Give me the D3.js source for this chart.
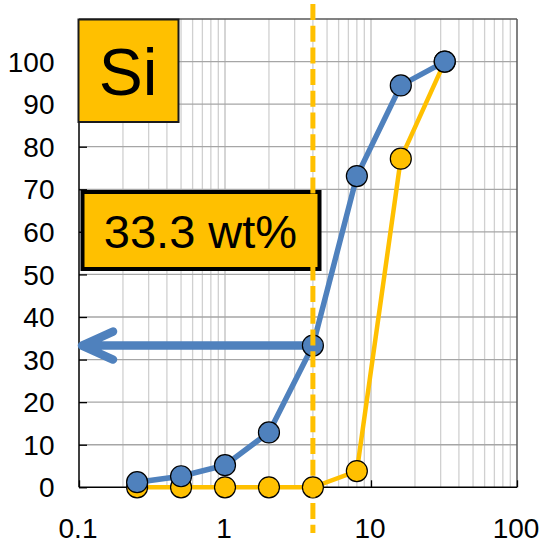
<!DOCTYPE html>
<html>
<head>
<meta charset="utf-8">
<script src="https://cdn.jsdelivr.net/npm/d3@7/dist/d3.min.js"></script>
<style>
  html, body { margin: 0; padding: 0; background: #fff; }
  svg { display: block; font-family: "Liberation Sans", Arial, sans-serif; }
</style>
</head>
<body>
<svg id="chart" width="539" height="541"></svg>
<script>
// Particle size (log axis) and cumulative fractions
const sizes = [0.25, 0.5, 1, 2, 4, 8, 16, 32];
const blueSeries = [1.2, 2.6, 5.2, 12.9, 33.3, 73.1, 94.4, 100];
const yellowSeries = [0, 0, 0, 0, 0, 3.8, 77.2, 100];
const xTicks = [0.1, 1, 10, 100];
const yTicks = [0, 10, 20, 30, 40, 50, 60, 70, 80, 90, 100];
const cutoffSize = 4;
const cutoffValue = 33.3;
const elementLabel = "Si";
const valueLabel = "33.3 wt%";

const BLUE = "#4F81BD", YELLOW = "#FFC000";

const svg = d3.select("#chart");
const pLeft = 79, pRight = 517, pTop = 19, pBottom = 487.3;

const x = d3.scaleLog().domain([0.1, 100]).range([pLeft, pRight]);
const y = d3.scaleLinear().domain([0, 110]).range([pBottom, pTop]);

// minor vertical grid
const minor = [];
[0.1, 1, 10].forEach(d => { for (let k = 1; k <= 10; k++) minor.push(d * k); });
svg.append("g").selectAll("line").data(minor.filter(v => v > 0.1 && v < 100))
  .join("line")
  .attr("x1", d => x(d)).attr("x2", d => x(d))
  .attr("y1", pTop).attr("y2", pBottom)
  .attr("stroke", "#d0d0d0").attr("stroke-width", 1.3);

// horizontal grid
svg.append("g").selectAll("line").data(d3.range(10, 110, 10))
  .join("line")
  .attr("x1", pLeft).attr("x2", pRight)
  .attr("y1", d => y(d)).attr("y2", d => y(d))
  .attr("stroke", "#a6a6a6").attr("stroke-width", 1.3);

// frame: top/right dark gray, left/bottom black axes
svg.append("line").attr("x1", pLeft).attr("x2", pRight).attr("y1", pTop).attr("y2", pTop)
  .attr("stroke", "#595959").attr("stroke-width", 1.5);
svg.append("line").attr("x1", pRight).attr("x2", pRight).attr("y1", pTop).attr("y2", pBottom)
  .attr("stroke", "#595959").attr("stroke-width", 1.5);

const yAxis = d3.axisLeft(y).tickValues(yTicks).tickSize(-8).tickFormat("");
svg.append("g").attr("transform", `translate(${pLeft},0)`).call(yAxis)
  .call(g => g.select(".domain").attr("stroke", "#000").attr("stroke-width", 1.5).attr("d", `M0,${pTop}V${pBottom}`))
  .call(g => g.selectAll(".tick line").attr("stroke", "#000").attr("stroke-width", 1.3));

const xAxis = d3.axisBottom(x).tickValues(xTicks).tickSize(-7).tickFormat("");
svg.append("g").attr("transform", `translate(0,${pBottom})`).call(xAxis)
  .call(g => g.select(".domain").attr("stroke", "#000").attr("stroke-width", 1.5).attr("d", `M${pLeft},0H${pRight}`))
  .call(g => g.selectAll(".tick line").attr("stroke", "#000").attr("stroke-width", 1.3));

// tick labels
svg.append("g").selectAll("text").data(yTicks).join("text")
  .attr("x", 54.5).attr("y", d => y(d)).attr("dy", "0.36em")
  .attr("text-anchor", "end").attr("font-size", 28).attr("fill", "#000")
  .text(d => d);
svg.append("g").selectAll("text").data(xTicks).join("text")
  .attr("x", d => x(d) - 1).attr("y", 538)
  .attr("text-anchor", "middle").attr("font-size", 28).attr("fill", "#000")
  .text(d => d);

const line = d3.line().x(d => x(d[0])).y(d => y(d[1]));
const yellowPts = sizes.map((s, i) => [s, yellowSeries[i]]);
const bluePts = sizes.map((s, i) => [s, blueSeries[i]]);

// value box
const box = svg.append("g");
box.append("rect").attr("x", 82.5).attr("y", 192).attr("width", 237).attr("height", 77)
  .attr("fill", YELLOW).attr("stroke", "#000").attr("stroke-width", 4);
box.append("text").attr("x", 200.5).attr("y", 248)
  .attr("text-anchor", "middle").attr("font-size", 47).attr("fill", "#000").text(valueLabel);

// yellow series
svg.append("path").datum(yellowPts).attr("d", line)
  .attr("fill", "none").attr("stroke", YELLOW).attr("stroke-width", 4.5);
svg.append("g").selectAll("circle").data(yellowPts).join("circle")
  .attr("cx", d => x(d[0])).attr("cy", d => y(d[1])).attr("r", 10.5)
  .attr("fill", YELLOW).attr("stroke", "#000").attr("stroke-width", 1.2);

// blue series
svg.append("path").datum(bluePts).attr("d", line)
  .attr("fill", "none").attr("stroke", BLUE).attr("stroke-width", 5.5);

// read-off arrow from cutoff point to y axis
const ay = y(cutoffValue);
svg.append("path")
  .attr("d", `M${x(cutoffSize)},${ay}H${pLeft + 5}M${pLeft + 34},${ay - 14}L${pLeft + 3},${ay}L${pLeft + 34},${ay + 14}`)
  .attr("fill", "none").attr("stroke", BLUE).attr("stroke-width", 8.5)
  .attr("stroke-linecap", "round").attr("stroke-linejoin", "round");

svg.append("g").selectAll("circle").data(bluePts).join("circle")
  .attr("cx", d => x(d[0])).attr("cy", d => y(d[1])).attr("r", 10.5)
  .attr("fill", BLUE).attr("stroke", "#000").attr("stroke-width", 1.2);

// cutoff line
svg.append("line").attr("x1", x(cutoffSize)).attr("x2", x(cutoffSize))
  .attr("y1", 4).attr("y2", 533)
  .attr("stroke", YELLOW).attr("stroke-width", 5).attr("stroke-dasharray", "16,5.7");

// element label box
svg.append("rect").attr("x", 78.5).attr("y", 19.5).attr("width", 100).attr("height", 102.5)
  .attr("fill", YELLOW).attr("stroke", "#1a1a1a").attr("stroke-width", 2);
svg.append("text").attr("x", 128).attr("y", 95)
  .attr("text-anchor", "middle").attr("font-size", 66).attr("fill", "#000").text(elementLabel);
</script>
</body>
</html>
